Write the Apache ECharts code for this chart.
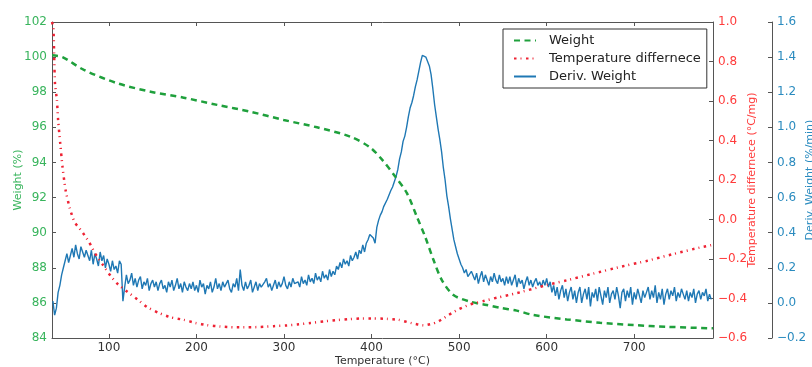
<!DOCTYPE html>
<html><head><meta charset="utf-8">
<script src="https://cdn.jsdelivr.net/npm/echarts@6/dist/echarts.min.js"></script>
<style>html,body{margin:0;padding:0;background:#fff}#c{width:812px;height:367px}</style>
</head><body><div id="c"></div>
<script>
// Weight (%) curve
const weightT = [35, 47, 71.5, 109.6, 147.6, 185.5, 223.6, 261.6, 299.6, 337.7, 375.7, 398.5, 413, 427, 440.4, 451.8, 461.2, 470.8, 480.3, 493.5, 512.6, 531.6, 546.8, 565.8, 584.8, 622.9, 661, 698.9, 737, 790];
const weightV = [100.1, 100.0, 99.27, 98.51, 98.03, 97.69, 97.28, 96.89, 96.42, 96.0, 95.47, 94.85, 94.1, 93.2, 92.25, 90.9, 89.77, 88.44, 87.3, 86.45, 86.07, 85.88, 85.72, 85.56, 85.31, 85.06, 84.87, 84.74, 84.64, 84.55];

// Temperature difference (°C/mg)
const tdT = [35, 36.6, 37.5, 38.4, 40.6, 42, 44.4, 47, 50.6, 55.5, 60.9, 68.5, 77, 84, 92.5, 102, 110.3, 121, 132.4, 143.8, 157, 170.4, 185.5, 198.9, 212.2, 227.4, 242.6, 257.9, 273, 288.2, 301.6, 314.9, 330, 345.2, 358.6, 373.8, 387, 402, 417.6, 430.8, 446, 459.3, 474.6, 487.9, 499.3, 512.6, 527.8, 543, 565.8, 600, 622.9, 653.2, 683.7, 714, 744.5, 774.9, 790];
const tdV = [1.0, 0.97, 0.826, 0.69, 0.605, 0.503, 0.385, 0.266, 0.147, 0.054, -0.014, -0.057, -0.112, -0.170, -0.226, -0.286, -0.328, -0.366, -0.404, -0.444, -0.473, -0.495, -0.508, -0.524, -0.535, -0.542, -0.546, -0.546, -0.544, -0.54, -0.537, -0.532, -0.524, -0.516, -0.51, -0.505, -0.501, -0.501, -0.503, -0.508, -0.525, -0.536, -0.52, -0.484, -0.455, -0.43, -0.413, -0.396, -0.373, -0.332, -0.308, -0.274, -0.24, -0.21, -0.175, -0.142, -0.128];

// Deriv. Weight (%/min)
const dwT = [36,38,40,42,44,46,48,50,52,54,56,58,60,62,64,66,68,70,72,74,
  76,78,80,82,84,86,88,90,92,94,96,98,100,102,104,106,108,110,112,114,
  116,118,120,122,124,126,128,130,132,134,136,138,140,142,144,146,148,150,152,154,
  156,158,160,162,164,166,168,170,172,174,176,178,180,182,184,186,188,190,192,194,
  196,198,200,202,204,206,208,210,212,214,216,218,220,222,224,226,228,230,232,234,
  236,238,240,242,244,246,248,250,252,254,256,258,260,262,264,266,268,270,272,274,
  276,278,280,282,284,286,288,290,292,294,296,298,300,302,304,306,308,310,312,314,
  316,318,320,322,324,326,328,330,332,334,336,338,340,342,344,346,348,350,352,354,
  356,358,360,362,364,366,368,370,372,374,376,378,380,382,384,386,388,390,392,394,
  396,398,400,402,404,406,408,410,412,414,416,418,420,422,424,426,428,430,432,434,
  436,438,440,442,444,446,448,450,452,454,456,458,460,462,464,466,468,470,472,474,
  476,478,480,482,484,486,488,490,492,494,496,498,500,502,504,506,508,510,512,514,
  516,518,520,522,524,526,528,530,532,534,536,538,540,542,544,546,548,550,552,554,
  556,558,560,562,564,566,568,570,572,574,576,578,580,582,584,586,588,590,592,594,
  596,598,600,602,604,606,608,610,612,614,616,618,620,622,624,626,628,630,632,634,
  636,638,640,642,644,646,648,650,652,654,656,658,660,662,664,666,668,670,672,674,
  676,678,680,682,684,686,688,690,692,694,696,698,700,702,704,706,708,710,712,714,
  716,718,720,722,724,726,728,730,732,734,736,738,740,742,744,746,748,750,752,754,
  756,758,760,762,764,766,768,770,772,774,776,778,780,782,784,786,788];
const dwV = [0.01,-0.07,-0.03,0.06,0.10,0.16,0.20,0.24,0.28,0.23,0.27,0.31,0.26,0.33,0.28,0.25,0.32,0.29,0.26,0.30,
  0.27,0.24,0.30,0.22,0.28,0.25,0.21,0.29,0.24,0.27,0.20,0.25,0.22,0.18,0.24,0.19,0.21,0.17,0.24,0.22,
  0.01,0.09,0.16,0.11,0.13,0.17,0.10,0.14,0.09,0.13,0.15,0.08,0.12,0.10,0.14,0.07,0.11,0.13,0.09,0.12,
  0.07,0.11,0.13,0.08,0.10,0.06,0.12,0.09,0.13,0.07,0.10,0.14,0.08,0.11,0.06,0.12,0.09,0.07,0.11,0.08,
  0.12,0.07,0.10,0.06,0.13,0.09,0.11,0.05,0.10,0.08,0.12,0.06,0.09,0.14,0.08,0.11,0.07,0.12,0.09,0.10,
  0.13,0.08,0.06,0.11,0.09,0.14,0.07,0.19,0.10,0.07,0.12,0.08,0.10,0.13,0.06,0.09,0.12,0.07,0.11,0.09,
  0.08,0.12,0.14,0.09,0.11,0.07,0.10,0.13,0.08,0.12,0.09,0.11,0.15,0.10,0.08,0.12,0.09,0.14,0.11,0.10,
  0.12,0.09,0.15,0.11,0.13,0.10,0.16,0.12,0.14,0.11,0.17,0.13,0.15,0.12,0.18,0.14,0.16,0.13,0.19,0.15,
  0.18,0.16,0.21,0.19,0.23,0.20,0.25,0.22,0.24,0.21,0.27,0.24,0.26,0.29,0.25,0.30,0.28,0.33,0.29,0.34,
  0.36,0.39,0.40,0.37,0.34,0.43,0.47,0.50,0.52,0.55,0.56,0.59,0.60,0.64,0.66,0.69,0.72,0.76,0.82,0.86,
  0.92,0.95,1.00,1.06,1.11,1.14,1.18,1.23,1.27,1.32,1.37,1.41,1.42,1.40,1.39,1.35,1.30,1.22,1.13,1.06,
  0.99,0.93,0.86,0.77,0.70,0.61,0.55,0.48,0.42,0.36,0.32,0.28,0.25,0.22,0.20,0.17,0.19,0.15,0.16,0.18,
  0.19,0.13,0.17,0.11,0.15,0.18,0.12,0.16,0.13,0.10,0.15,0.12,0.17,0.13,0.11,0.16,0.12,0.14,0.10,0.15,
  0.11,0.15,0.10,0.13,0.16,0.09,0.14,0.11,0.13,0.08,0.12,0.15,0.10,0.13,0.09,0.12,0.14,0.10,0.12,0.09,
  0.13,0.10,0.14,0.09,0.12,0.06,0.10,0.04,0.09,0.02,0.07,0.10,0.03,0.08,0.01,0.06,0.09,0.02,0.07,0.00,
  0.06,0.09,0.00,0.05,0.08,0.02,0.09,-0.02,0.06,0.03,0.08,0.01,0.09,0.04,-0.01,0.07,0.03,0.09,0.00,0.05,
  0.07,0.02,0.09,0.04,-0.03,0.06,0.08,0.01,0.07,0.03,0.09,-0.01,0.06,0.02,0.08,0.04,0.00,0.07,0.03,0.06,
  0.09,0.02,0.07,0.03,0.10,0.00,0.06,0.02,0.08,-0.01,0.05,0.08,0.02,0.07,0.04,0.09,0.01,0.06,0.03,0.08,
  0.05,0.02,0.07,0.01,0.06,0.03,0.08,0.00,0.05,0.07,0.02,0.06,0.04,0.08,0.01,0.05,0.02];

const seriesNames = ['Weight', 'Temperature differnece', 'Deriv. Weight'];
const xName = 'Temperature (\u00b0C)';
const yNames = ['Weight (%)', 'Temperature differnece (\u00b0C/mg)', 'Deriv. Weight (%/min)'];

const FONT = 'DejaVu Sans';
const GREEN = '#1fa03c', GREEN_T = '#38b45c';
const RED = '#ee2233', RED_T = '#ff3b3b';
const BLUE = '#1f78b4', BLUE_T = '#2a8bbf';
const SPINE = '#555';
const minus = v => String(v).replace('-', '\u2212');

const chart = echarts.init(document.getElementById('c'), null, {renderer: 'canvas'});
chart.setOption({
  animation: false,
  backgroundColor: '#fff',
  grid: {left: 52, right: 99, top: 22, bottom: 29, containLabel: false, outerBoundsMode: 'none'},
  legend: {
    orient: 'vertical', left: 503, top: 29,
    padding: [5, 6, 5, 10], itemGap: 5, itemWidth: 22, itemHeight: 14,
    borderColor: '#333', borderWidth: 1, backgroundColor: '#fff',
    itemStyle: {opacity: 0},
    textStyle: {fontFamily: FONT, fontSize: 13, color: '#222', padding: [0, 0, 0, 8]},
    data: seriesNames
  },
  xAxis: [{
    type: 'value', min: 35, max: 790, splitNumber: 8, minInterval: 100, maxInterval: 100,
    position: 'bottom',
    name: xName, nameLocation: 'middle', nameGap: 18, nameMoveOverlap: false,
    nameTextStyle: {fontFamily: FONT, fontSize: 11, color: '#333'},
    axisLine: {show: true, onZero: false, lineStyle: {color: SPINE}},
    axisTick: {show: true, inside: true, length: 4, lineStyle: {color: SPINE}},
    axisLabel: {fontFamily: FONT, fontSize: 12, color: '#333', margin: 4, showMinLabel: false, showMaxLabel: false},
    splitLine: {show: false}
  }, {
    type: 'value', min: 35, max: 790, splitNumber: 8, minInterval: 100, maxInterval: 100,
    position: 'top',
    axisLine: {show: true, onZero: false, lineStyle: {color: SPINE}},
    axisTick: {show: true, inside: true, length: 4, lineStyle: {color: SPINE}},
    axisLabel: {show: false},
    splitLine: {show: false}
  }],
  yAxis: [{
    type: 'value', min: 84, max: 102, interval: 2, position: 'left',
    name: yNames[0], nameLocation: 'middle', nameGap: 28, nameMoveOverlap: false,
    nameTextStyle: {fontFamily: FONT, fontSize: 11, color: GREEN_T},
    axisLine: {show: true, onZero: false, lineStyle: {color: SPINE}},
    axisTick: {show: true, inside: true, length: 4, lineStyle: {color: SPINE}},
    axisLabel: {fontFamily: FONT, fontSize: 12, color: GREEN_T, margin: 5},
    splitLine: {show: false}
  }, {
    type: 'value', min: -0.6, max: 1.0, interval: 0.2, position: 'right',
    name: yNames[1], nameLocation: 'middle', nameGap: 34, nameRotate: 90, nameMoveOverlap: false,
    nameTextStyle: {fontFamily: FONT, fontSize: 11, color: RED_T},
    axisLine: {show: true, onZero: false, lineStyle: {color: SPINE}},
    axisTick: {show: true, inside: true, length: 4, lineStyle: {color: SPINE}},
    axisLabel: {fontFamily: FONT, fontSize: 12, color: RED_T, margin: 5, formatter: v => minus(v.toFixed(1))},
    splitLine: {show: false}
  }, {
    type: 'value', min: -0.2, max: 1.6, interval: 0.2, position: 'right', offset: 59,
    name: yNames[2], nameLocation: 'middle', nameGap: 33, nameRotate: 90, nameMoveOverlap: false,
    nameTextStyle: {fontFamily: FONT, fontSize: 11, color: BLUE_T},
    axisLine: {show: true, onZero: false, lineStyle: {color: SPINE}},
    axisTick: {show: true, inside: true, length: 4, lineStyle: {color: SPINE}},
    axisLabel: {fontFamily: FONT, fontSize: 12, color: BLUE_T, margin: 5, formatter: v => minus(v.toFixed(1))},
    splitLine: {show: false}
  }],
  series: [{
    name: seriesNames[0], type: 'line', xAxisIndex: 0, yAxisIndex: 0,
    data: weightT.map((t, i) => [t, weightV[i]]),
    smooth: 0.3, showSymbol: false, symbol: 'none', z: 3,
    lineStyle: {color: GREEN, width: 2.5, type: [6, 4.5]},
    itemStyle: {color: GREEN}
  }, {
    name: seriesNames[1], type: 'line', xAxisIndex: 0, yAxisIndex: 1,
    data: tdT.map((t, i) => [t, tdV[i]]),
    smooth: 0.2, showSymbol: false, symbol: 'none', z: 4,
    lineStyle: {color: RED, width: 2.5, type: [2.5, 4, 1, 4.5]},
    itemStyle: {color: RED}
  }, {
    name: seriesNames[2], type: 'line', xAxisIndex: 0, yAxisIndex: 2,
    data: dwT.map((t, i) => [t, dwV[i]]),
    showSymbol: false, symbol: 'none', z: 2,
    lineStyle: {color: BLUE, width: 1.4},
    itemStyle: {color: BLUE}
  }]
});
</script>
</body></html>
